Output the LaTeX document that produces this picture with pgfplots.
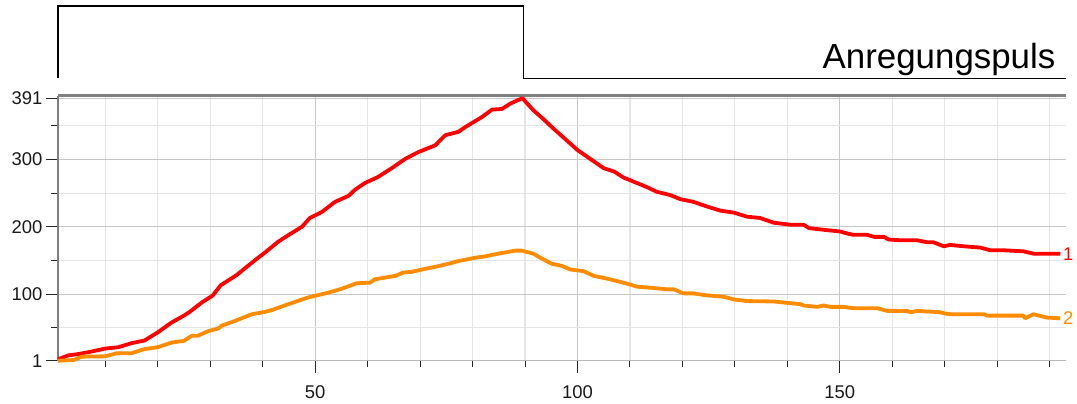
\documentclass[border=0pt]{standalone}
\usepackage{fontspec}
\setmainfont{Liberation Sans}
\usepackage{pgfplots}
\pgfplotsset{compat=1.18}

\definecolor{curveOne}{RGB}{255,0,0}
\definecolor{curveTwo}{RGB}{255,140,0}

\begin{document}
\begin{tikzpicture}
\path[use as bounding box] (-58bp,-43.3bp) rectangle (1019bp,360.7bp);

% excitation pulse strip above the plot
\begin{axis}[
    at={(0,282.2bp)}, anchor=south west,
    scale only axis, width=1007.5bp, height=72.5bp,
    xmin=1, xmax=193, ymin=0, ymax=1,
    hide axis, clip=false,
]
\addplot[black, line width=1.8bp, mark=none] coordinates {
    (1,0) (1,1) (89.7,1) (89.7,0) (193,0)
};
\node[anchor=base east, inner sep=0pt, font=\fontsize{35}{40}\selectfont]
    at (axis cs:191.1,0.14) {Anregungspuls};
\end{axis}

% main plot
\begin{axis}[
    at={(0,0)}, anchor=south west,
    scale only axis, width=1007.5bp, height=265.2bp,
    xmin=1, xmax=193, ymin=1, ymax=395,
    axis x line*=bottom, axis y line*=left,
    x axis line style={-, color=black!28, line width=1.2bp},
    y axis line style={-, color=black!50, line width=2bp},
    xtick={50,100,150}, xticklabels={50,100,150},
    minor xtick={10,20,...,190},
    ytick={1,100,200,300,391}, yticklabels={1,100,200,300,391},
    minor ytick={50,150,250,350},
    extra y ticks={395}, extra y tick labels={},
    extra y tick style={major tick length=0pt,
        major grid style={color=black!50, line width=3bp}},
    tick align=outside,
    major tick length=12bp, minor tick length=6.5bp,
    tick style={color=black!85, line width=1bp},
    grid=both,
    major grid style={color=black!22, line width=1.1bp},
    minor grid style={color=black!10, line width=1.1bp},
    ticklabel style={font=\fontsize{18.5}{20}\selectfont, text=black!90},
    xticklabel style={yshift=-9bp},
    /pgf/number format/assume math mode=true,
    clip=false,
]
\addplot[curveOne, line width=3.8bp, line join=round, mark=none] coordinates {
    (1,3) (3,9) (5,11) (7,14) (10,19) (12.5,21) (15,27) (17.5,31) (20,43)
    (22.5,57) (25,68) (26,73) (28.5,88) (30.5,98) (32,113) (35,128)
    (38.5,150) (40.5,162) (43,178) (45,188) (47.5,200) (49,213) (51.3,222)
    (53.8,237) (56.4,246) (57.6,255) (59.5,265) (62,274) (64.6,287)
    (67.2,301) (69.7,311) (72.9,321) (74.8,336) (77.3,341) (78.6,348)
    (81.8,363) (83.7,374) (85.6,375) (87.2,383) (89.5,391)
    (91.6,373) (93.5,360) (95.4,346) (98,328) (100,314) (102.4,301)
    (105,287) (107,282) (108.8,273) (110.7,267) (113.2,259) (115.1,252)
    (117.7,247) (119.6,241) (122.1,237) (124.7,230) (127.2,224) (129.8,221)
    (132.3,215) (134.8,213) (137.4,206) (140.6,203) (143.1,203) (144.1,198)
    (146.9,195.5) (150,193) (151.4,190) (152.6,188) (155.2,188) (156.5,185)
    (158.4,185) (159.3,181) (161.5,180) (164.7,180) (166.6,177) (167.8,177)
    (169.8,171) (171,173) (173.6,171) (176.8,169) (178.7,165) (181.3,165)
    (185,163.5) (186.9,160) (192,160)
} node[pos=1, anchor=west, inner sep=1bp, text=curveOne,
       font=\fontsize{18.5}{20}\selectfont] {1};
\addplot[curveTwo, line width=3.8bp, line join=round, mark=none] coordinates {
    (1,1) (4,2) (5.5,7) (10,7.5) (12.2,12) (15,12) (17.3,18) (20,21)
    (22.7,28) (25,30.5) (26.5,38) (27.6,38) (29.7,45) (31.6,49) (32.2,53)
    (34.7,60) (37.9,70) (40.1,73) (41.7,76) (44.9,85) (48.7,95) (52.5,102)
    (55.1,108) (57.9,116) (60.5,117) (61.4,122) (65.3,127) (66.8,132)
    (68.4,133) (71,137.5) (73.2,141) (75.4,145) (77.3,149) (80.5,154)
    (82.4,156) (84.9,160) (88.1,164.5) (89.4,164.5) (91.6,160) (92.9,154)
    (95.1,145) (97,142) (98.6,136.5) (101.2,134) (103.1,127) (105.6,123)
    (108.2,118) (110.1,114) (111.3,111) (114.5,109) (117.1,107) (118.4,107)
    (120.2,101) (122.1,101) (124.7,98) (127.9,96) (129.8,92) (132.3,89.6)
    (137.4,89) (139.9,87) (142.5,85) (143.1,83) (145.7,81) (146.9,83)
    (148.2,81) (150.7,81) (152.6,79) (157.1,79) (159,75) (162.8,75)
    (163.5,73) (164.7,75) (169.2,73) (169.8,71.5) (171.1,70) (177.5,70)
    (178.1,68) (185,68) (185.3,64) (186.9,70) (187.9,68) (189.5,65) (192,64)
} node[pos=1, anchor=west, inner sep=1bp, text=curveTwo,
       font=\fontsize{18.5}{20}\selectfont] {2};
\end{axis}
\end{tikzpicture}
\end{document}
